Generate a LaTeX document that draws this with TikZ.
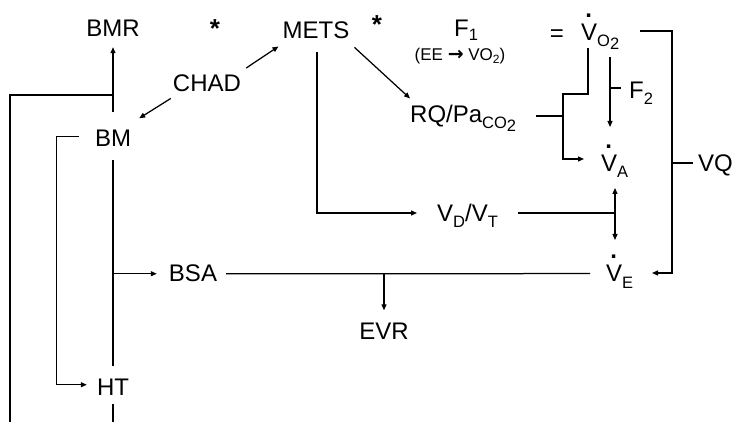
\documentclass[tikz,border=0pt]{standalone}
\usepackage{fontspec}
\setmainfont{Liberation Sans}
\newfontfamily\symfont{DejaVu Sans}
\usetikzlibrary{arrows.meta,calc}
\newcommand{\Vdot}{\leavevmode\rlap{\hspace{0.17em}\raisebox{0.97em}{\bfseries .}}V}
\newcommand{\sbx}[1]{\raisebox{-6pt}{\fontsize{16.5}{16.5}\selectfont #1}}
\newcommand{\ssbx}[1]{\raisebox{-3pt}{#1}}
\tikzset{
  lbl/.style={inner sep=0pt, font=\fontsize{24}{28}\selectfont},
  starlbl/.style={lbl, font=\fontsize{26}{30}\selectfont\bfseries},
  ln/.style={line width=1.25pt},
  tip/.tip={Triangle[length=6pt,width=5pt]},
  arr/.style={ln, -tip},
  darr/.style={ln, tip-tip},
}
\begin{document}
\begin{tikzpicture}[x=1pt,y=-1pt]
\useasboundingbox (0,0) rectangle (734,422);
% labels
\node[lbl,anchor=base] (BMR) at (113,37) {BMR};
\node[starlbl,anchor=base] (st1) at (215,38) {*};
\node[lbl,anchor=base] (METS) at (316,39) {METS};
\node[starlbl,anchor=base] (st2) at (377,34) {*};
\node[lbl,anchor=base west] (F1) at (454,37) {F\raisebox{-4pt}{\fontsize{16.5}{16.5}\selectfont 1}};
\node[lbl,anchor=base,font=\fontsize{17}{20}\selectfont] (EE) at (460,61) {(EE {\symfont\bfseries\fontsize{19}{20}\selectfont →} VO\raisebox{-3pt}{\fontsize{12}{12}\selectfont 2})};
\node[lbl,anchor=base] (eq) at (557,42) {=};
\node[lbl,anchor=base west] (VO2) at (581,41) {\Vdot\sbx{O\ssbx{2}}};
\node[lbl,anchor=base west] (F2) at (629,99) {F\sbx{2}};
\node[lbl,anchor=base west] (RQ) at (410,123) {RQ/Pa\sbx{CO\ssbx{2}}};
\node[lbl,anchor=base west] (VA) at (601,172) {\Vdot\sbx{A}};
\node[lbl,anchor=base west] (VQ) at (698,172) {VQ};
\node[lbl,anchor=base] (CHAD) at (207,92) {CHAD};
\node[lbl,anchor=base] (BM) at (113,147) {BM};
\node[lbl,anchor=base west] (VD) at (437,222) {V\sbx{D}/V\sbx{T}};
\node[lbl,anchor=base] (BSA) at (193,282) {BSA};
\node[lbl,anchor=base] (EVR) at (384,339) {EVR};
\node[lbl,anchor=base west] (VE) at (606,282) {\Vdot\sbx{E}};
\node[lbl,anchor=base] (HT) at (113,395) {HT};
% junctions
\coordinate (Lbot) at (10,422);
\coordinate (jL) at (113,95);
\coordinate (jV) at (615,213);
\coordinate (jR) at (563,116);
% left side
\draw[arr] ($(BM.north)+(0,-18)$) -- ($(BMR.south)+(0,10)$);
\draw[ln] (Lbot) |- (jL);
\draw[arr] ($(BM.west)+(-16,-2)$) -- ++(-22,0) |- ($(HT.west)+(-10,-2)$);
\draw[ln] ($(BM.south)+(0,13)$) -- ($(HT.north)+(0,-12)$);
\draw[arr] (BSA.west -| BM.south) -- ($(BSA.west)+(-12,0)$);
\draw[ln] ($(HT.south)+(0,9)$) -- (HT.south |- Lbot);
% CHAD
\draw[arr] ($(CHAD.north east)+(5,-7)$) -- ($(METS.south west)+(-4,7)$);
\draw[arr] ($(CHAD.south west)+(-2,6)$) -- ($(BM.north east)+(8,-12)$);
% METS
\draw[arr] ($(METS.south east)+(5,8)$) -- ($(RQ.north west)+(0,-7)$);
\draw[arr] ($(METS.south)+(1,13)$) |- ($(VD.base west)+(-20,-9)$);
\draw[ln] ($(VD.base east)+(20,-9)$) -- (jV);
\draw[darr] ($(jV)+(0,-25)$) -- ($(jV)+(0,27)$);
% VO2 -> VA
\draw[arr] ($(VO2.base west)+(29,16)$) -- ($(VA.base west)+(9,-45)$);
\draw[ln] ($(F2.base west)+(-19,-11)$) -- ++(11,0);
\draw[arr] ($(VO2.base west)+(7,7)$) -- ++(0,46) -- ++(-25,0) |- ($(VA.base west)+(-17,-13)$);
\draw[ln] ($(RQ.base east)+(20,-7)$) -- (jR);
% right bracket
\draw[arr] ($(VO2.base west)+(59,-10)$) -- ++(32,0) |- ($(VE.base west)+(46,-9)$);
\draw[ln] ($(VQ.base west)+(-5,-9)$) -- ++(-21,0);
% BSA -> VE
\draw[ln] ($(BSA.east)+(9,0)$) -- ($(VE.base west)+(-16,-8.4)$);
\draw[arr] (EVR.north |- BSA.east) -- ($(EVR.north)+(0,-12)$);
\end{tikzpicture}
\end{document}
